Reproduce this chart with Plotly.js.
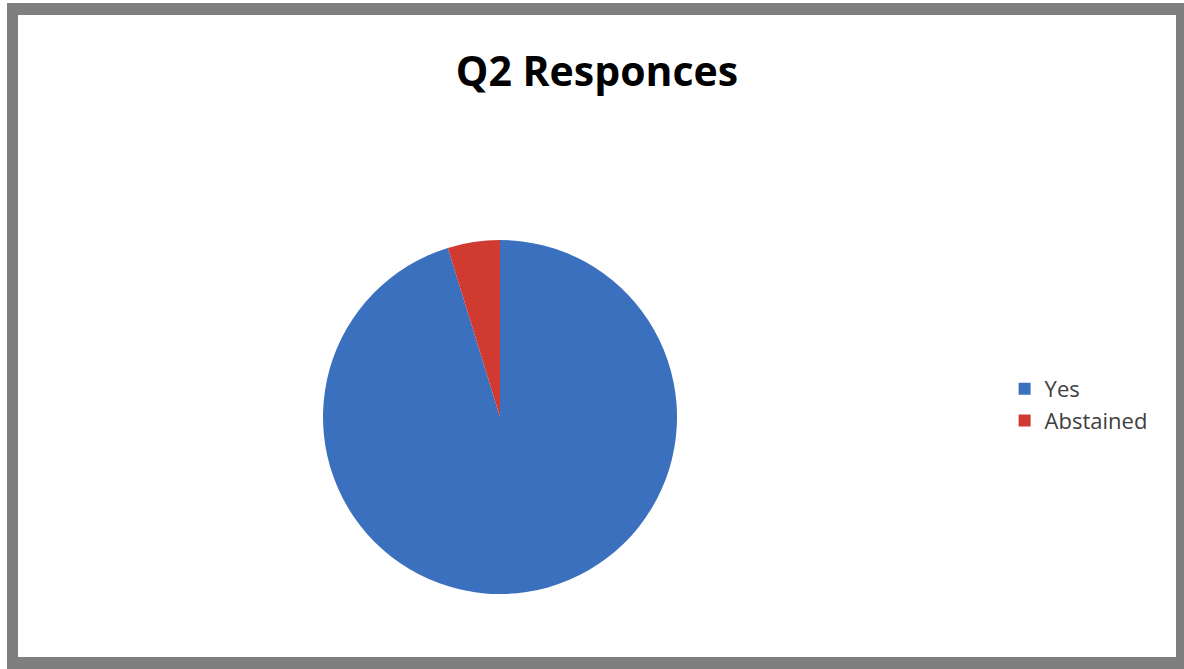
<!DOCTYPE html>
<html>
<head>
<meta charset="utf-8">
<script src="https://cdn.plot.ly/plotly-3.0.1.min.js"></script>
<style>
  html, body { margin: 0; padding: 0; background: #ffffff; overflow: hidden; }
  #frame {
    position: absolute; left: 7px; top: 3px;
    width: 1177px; height: 666px; box-sizing: border-box;
    border-style: solid; border-color: #7f7f7f;
    border-width: 12px 8px 12px 11px;
    background: #ffffff;
  }
  #chart { width: 1158px; height: 642px; }
</style>
</head>
<body>
<div id="frame"><div id="chart"></div></div>
<script>
const categories = ["Yes", "Abstained"];
const responses = [20, 1];
const sliceColors = ["#3a70bd", "#d03a30"];
const chartTitle = "Q2 Responces";

const data = [{
  type: "pie",
  labels: categories,
  values: responses,
  sort: false,
  direction: "clockwise",
  rotation: 0,
  textinfo: "none",
  hoverinfo: "label+value+percent",
  marker: { colors: sliceColors, line: { width: 0 } },
  domain: { x: [0.2634, 0.5691], y: [0.0981, 0.6495] }
}];

const layout = {
  width: 1158, height: 642,
  margin: { l: 0, r: 0, t: 0, b: 0 },
  paper_bgcolor: "#ffffff",
  font: { family: "Open Sans, Noto Sans, sans-serif" },
  title: {
    text: "<b>" + chartTitle + "</b>",
    font: { size: 41, color: "#000000", family: "Open Sans, Noto Sans, sans-serif" },
    x: 0.5, xanchor: "center", xref: "paper",
    y: 0.911, yanchor: "middle", yref: "paper"
  },
  showlegend: true,
  legend: {
    x: 0.852, xanchor: "left",
    y: 0.3925, yanchor: "middle",
    font: { size: 22, color: "#404040", family: "Open Sans, Noto Sans, sans-serif" },
    bgcolor: "rgba(0,0,0,0)",
    itemclick: false
  }
};

Plotly.newPlot("chart", data, layout, { displayModeBar: false });
</script>
</body>
</html>
